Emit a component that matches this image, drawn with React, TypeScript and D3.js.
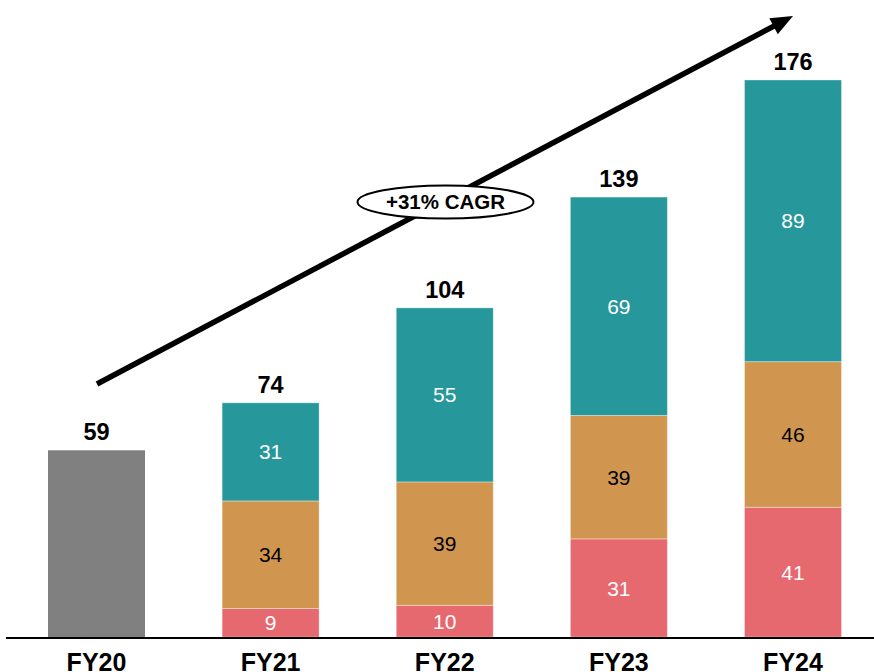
import React from "react";
import * as d3 from "d3";

const categories = ["FY20", "FY21", "FY22", "FY23", "FY24"];
const baseValues = [59, 0, 0, 0, 0];
const pinkValues = [0, 9, 10, 31, 41];
const orangeValues = [0, 34, 39, 39, 46];
const tealValues = [0, 31, 55, 69, 89];
const totals = [59, 74, 104, 139, 176];
const cagrLabel = "+31% CAGR";

const W = 874;
const H = 672;
const FONT = "'Liberation Sans', Arial, sans-serif";

export default function App() {
  const x = d3.scalePoint<string>().domain(categories).range([96.5, 793]);
  const bw = 97;
  const y = d3.scaleLinear().domain([0, 176]).range([637, 80]);

  const series = [
    { key: "base", values: baseValues, color: "#808080", text: "#ffffff" },
    { key: "pink", values: pinkValues, color: "#e5696f", text: "#ffffff" },
    { key: "orange", values: orangeValues, color: "#d0964f", text: "#000000" },
    { key: "teal", values: tealValues, color: "#26979b", text: "#ffffff" },
  ];

  const rows = categories.map((c, i) => {
    const r: any = { cat: c };
    series.forEach((s) => (r[s.key] = s.values[i]));
    return r;
  });
  const stacked = d3.stack<any>().keys(series.map((s) => s.key))(rows);

  // arrow geometry
  const ax0 = 97, ay0 = 384, ax1 = 793, ay1 = 16;
  const ang = Math.atan2(ay1 - ay0, ax1 - ax0);
  const headLen = 22, headHalf = 9;
  const bx = ax1 - headLen * Math.cos(ang);
  const by = ay1 - headLen * Math.sin(ang);
  const px = -Math.sin(ang), py = Math.cos(ang);
  const head = `M${ax1},${ay1} L${bx + px * headHalf},${by + py * headHalf} L${bx - px * headHalf},${by - py * headHalf} Z`;

  return (
    <svg width={W} height={H} style={{ position: "absolute", left: 0, top: 0, background: "#fff" }} fontFamily={FONT}>
      {stacked.map((layer, li) => {
        const s = series[li];
        return (
          <g key={s.key}>
            {layer.map((d, i) => {
              const v = d[1] - d[0];
              if (v <= 0) return null;
              const cx = x(categories[i])!;
              const y0 = y(d[0]);
              const y1 = y(d[1]);
              return (
                <g key={i}>
                  <rect x={cx - bw / 2} y={y1} width={bw} height={y0 - y1} fill={s.color}
                    stroke="#ffffff" strokeOpacity={s.key === "base" ? 0 : 0.35} strokeWidth={1} />
                  {s.key !== "base" && (
                    <text x={cx} y={(y0 + y1) / 2} dy="0.36em" textAnchor="middle" fontSize={21} fill={s.text}>
                      {v}
                    </text>
                  )}
                </g>
              );
            })}
          </g>
        );
      })}
      {totals.map((t, i) => (
        <text key={i} x={x(categories[i])!} y={y(t) - 10} textAnchor="middle" fontSize={23.5} fontWeight="bold" fill="#000">
          {t}
        </text>
      ))}
      <line x1={6} x2={874} y1={638} y2={638} stroke="#000" strokeWidth={2} />
      {categories.map((c) => (
        <text key={c} x={x(c)!} y={671} textAnchor="middle" fontSize={25} fontWeight="bold" fill="#000">
          {c}
        </text>
      ))}
      <line x1={ax0} y1={ay0} x2={bx + 2 * Math.cos(ang)} y2={by + 2 * Math.sin(ang)} stroke="#000" strokeWidth={5.5} />
      <path d={head} fill="#000" />
      <ellipse cx={445.5} cy={202} rx={88} ry={16.5} fill="#fff" stroke="#000" strokeWidth={2} />
      <text x={445.5} y={202} dy="0.36em" textAnchor="middle" fontSize={20.5} fontWeight="bold" fill="#000">
        {cagrLabel}
      </text>
    </svg>
  );
}
